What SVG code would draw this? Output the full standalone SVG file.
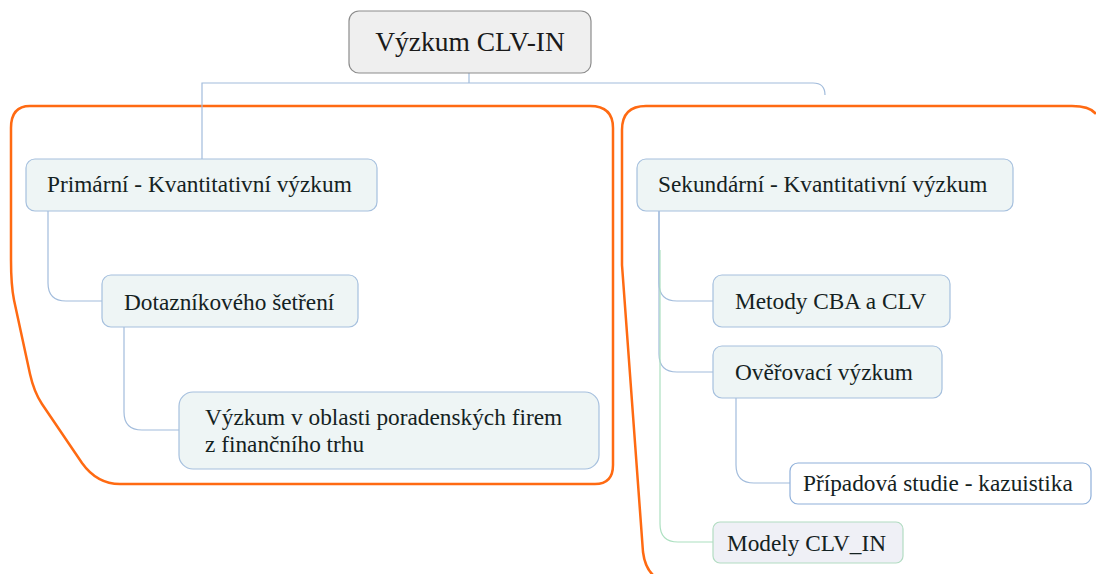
<svg xmlns="http://www.w3.org/2000/svg" width="1096" height="574" viewBox="0 0 1096 574">
<style>
.node{fill:#eef5f5;stroke:#a6c0de;stroke-width:1.2}
.root{fill:#efefef;stroke:#8c8c8c;stroke-width:1.2}
.white{fill:#ffffff;stroke:#8fb0da;stroke-width:1.2}
.green{fill:#eff0f6;stroke:#b2dcc2;stroke-width:1.2}
.t{font-family:'Liberation Serif',Tinos,'Times New Roman','DejaVu Serif',serif;font-size:23.3px;fill:#142222}
.rt{font-family:'Liberation Serif',Tinos,'Times New Roman','DejaVu Serif',serif;font-size:27.5px;fill:#1a1a1a}
.c{fill:none;stroke:#a2bcdc;stroke-width:1.2}
.cg{fill:none;stroke:#ace0c0;stroke-width:1.2}
.b{fill:none;stroke:#ff6a12;stroke-width:2.5;stroke-linejoin:round}
</style>
<g id="boundaries">
<path class="b" d="M 30,106 L 590,106 Q 613,106 613,128 L 613,465 Q 613,484 595,484 L 120,484 Q 97,484 82,463 L 42,404 Q 34,392 30,374 L 14,300 Q 11,285 11,260 L 11,128 Q 11,106 30,106 Z"/>
<path class="b" d="M 1096,114 Q 1090,106 1072,106 L 646,106 Q 622,106 622,130 L 622,265 L 643,552 Q 645,568 654,576"/>
</g>
<g id="connectors">
<path class="c" d="M 469,73 L 469,83"/>
<path class="c" d="M 202,159 L 202,83 L 813,83 Q 825,83 825,95"/>
<path class="c" d="M 48,211 L 48,283 Q 48,301 66,301 L 102,301"/>
<path class="c" d="M 124,327 L 124,412 Q 124,430 142,430 L 179,430"/>
<path class="c" d="M 659,211 L 659,283 Q 659,301 677,301 L 713,301"/>
<path class="c" d="M 659,211 L 659,354 Q 659,372 677,372 L 713,372"/>
<path class="cg" d="M 660,250 L 660,524 Q 660,542 678,542 L 713,542"/>
<path class="c" d="M 736,398 L 736,465 Q 736,483 754,483 L 790,483"/>
</g>
<g id="root">
<rect class="root" x="349" y="11" width="242" height="62" rx="10"/>
<text class="rt" x="470" y="51" text-anchor="middle">Výzkum CLV-IN</text>
</g>
<g id="primarni">
<rect class="node" x="26" y="159" width="351" height="52" rx="9"/>
<text class="t" x="47" y="192">Primární - Kvantitativní výzkum</text>
</g>
<g id="dotaznik">
<rect class="node" x="102" y="275" width="256" height="52" rx="9"/>
<text class="t" x="124" y="310">Dotazníkového šetření</text>
</g>
<g id="vyzkum-oblast">
<rect class="node" x="179" y="392" width="420" height="77" rx="14"/>
<text class="t" x="205" y="425">Výzkum v oblasti poradenských firem</text>
<text class="t" x="205" y="452">z finančního trhu</text>
</g>
<g id="sekundarni">
<rect class="node" x="637" y="159" width="376" height="52" rx="9"/>
<text class="t" x="658" y="192">Sekundární - Kvantitativní výzkum</text>
</g>
<g id="metody">
<rect class="node" x="713" y="275" width="237" height="52" rx="9"/>
<text class="t" x="735" y="309">Metody CBA a CLV</text>
</g>
<g id="overovaci">
<rect class="node" x="713" y="346" width="229" height="52" rx="9"/>
<text class="t" x="735" y="380">Ověřovací výzkum</text>
</g>
<g id="pripadova">
<rect class="white" x="790" y="463" width="301" height="41" rx="8"/>
<text class="t" x="803" y="491">Případová studie - kazuistika</text>
</g>
<g id="modely">
<rect class="green" x="713" y="522" width="190" height="41" rx="7"/>
<text class="t" x="727" y="551">Modely CLV_IN</text>
</g>
</svg>
